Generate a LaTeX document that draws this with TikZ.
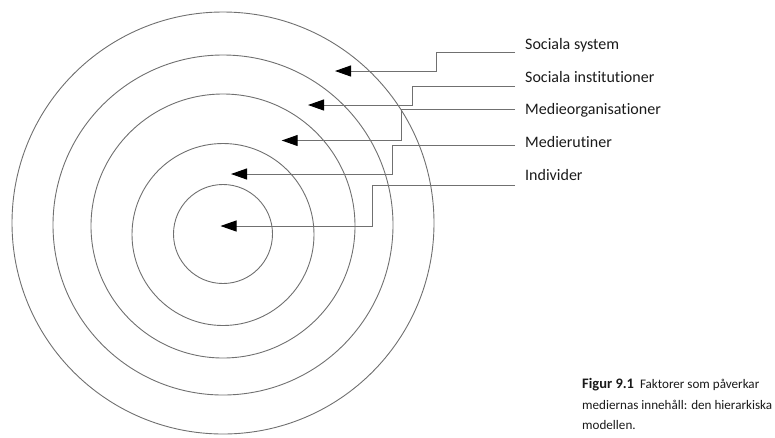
\documentclass[tikz,border=0pt]{standalone}
\usepackage{fontspec}
\setmainfont{Carlito}[Ligatures={NoCommon,NoContextual}]
\usetikzlibrary{arrows.meta}
\definecolor{ringgray}{HTML}{707070}
\definecolor{txt}{HTML}{1A1A1A}
\begin{document}
\begin{tikzpicture}[x=1pt,y=-1pt,
  ring/.style={draw=ringgray,line width=0.9pt},
  conn/.style={draw=ringgray,line width=1pt,-{Triangle[length=16pt,width=11pt,color=black]}},
  lbl/.style={anchor=base west,inner sep=0pt,text=txt,font=\fontsize{16}{19}\selectfont},
  captext/.style={anchor=north west,inner sep=0pt,text=txt,align=left,font=\fontsize{13.1}{20.8}\selectfont}]
\path[use as bounding box] (0,0) rectangle (775,437);
% rings
\draw[ring] (223,223) circle[radius=211];
\draw[ring] (223,225) circle[radius=170];
\draw[ring] (223,226) circle[radius=132];
\draw[ring] (223,234.5) circle[radius=91];
\draw[ring] (223,234) circle[radius=49.5];
% labels
\node[lbl] (l1) at (525,49) {Sociala system};
\node[lbl] (l2) at (525,82) {Sociala institutioner};
\node[lbl] (l3) at (525,114) {Medieorganisationer};
\node[lbl] (l4) at (525,147) {Medierutiner};
\node[lbl] (l5) at (525,180) {Individer};
% connector ends
\coordinate (s1) at (515,52.7);
\coordinate (s2) at (515,86.5);
\coordinate (s3) at (515,109.8);
\coordinate (s4) at (515,145);
\coordinate (s5) at (515,185.5);
\coordinate (k1) at (436.7,71);
\coordinate (k2) at (412.5,105);
\coordinate (k3) at (401.7,140.5);
\coordinate (k4) at (392,174);
\coordinate (k5) at (372.5,226);
\coordinate (t1) at (335,71);
\coordinate (t2) at (308,105);
\coordinate (t3) at (281.7,140.5);
\coordinate (t4) at (231,174);
\coordinate (t5) at (220.5,226);
\draw[conn] (s1) -| (k1) -- (t1);
\draw[conn] (s2) -| (k2) -- (t2);
\draw[conn] (s3) -| (k3) -- (t3);
\draw[conn] (s4) -| (k4) -- (t4);
\draw[conn] (s5) -| (k5) -- (t5);
% caption
\node[captext] (caption) at (582,378) {{\fontsize{14.5}{20.8}\selectfont\textbf{Figur 9.1}}\ \ Faktorer som påverkar\\mediernas innehåll: den hierarkiska\\modellen.};
\end{tikzpicture}
\end{document}
